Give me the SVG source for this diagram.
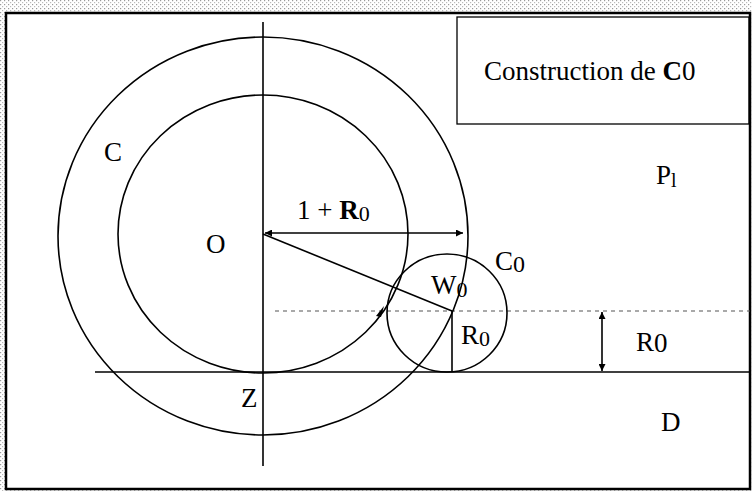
<svg xmlns="http://www.w3.org/2000/svg" width="752" height="491" viewBox="0 0 752 491">
<defs>
<pattern id="dots" width="4" height="4" patternUnits="userSpaceOnUse">
<rect width="4" height="4" fill="#fff"/>
<rect x="0" y="0" width="1.2" height="1.2" fill="#999"/>
<rect x="2" y="2" width="1.2" height="1.2" fill="#bbb"/>
</pattern>
<marker id="ah" viewBox="0 0 10 10" refX="10" refY="5" markerWidth="9" markerHeight="7" markerUnits="userSpaceOnUse" orient="auto-start-reverse">
<path d="M0,0 L10,5 L0,10 z" fill="#000"/>
</marker>
<style>
.ln{fill:none;stroke:#000;stroke-width:1.6}
.t{font-family:"Liberation Serif","Times New Roman",serif;font-size:27px;fill:#000}
.b{font-weight:bold}
</style>
</defs>
<rect x="0" y="0" width="752" height="491" fill="url(#dots)"/>
<rect x="6" y="13" width="744" height="476" fill="#fff" stroke="#000" stroke-width="2.5"/>

<g id="box">
<rect x="457" y="17" width="292" height="107" fill="none" stroke="#000" stroke-width="1.3"/>
<text class="t" x="484" y="80" font-size="26">Construction de <tspan class="b">C</tspan><tspan>0</tspan></text>
</g>

<g id="connectors">
<line class="ln" x1="263" y1="22" x2="263" y2="466"/>
<line class="ln" x1="95" y1="372" x2="750" y2="372"/>
<line x1="275" y1="311" x2="750" y2="311" stroke="#555" stroke-width="1.2" stroke-dasharray="4 4"/>
<line class="ln" x1="265" y1="233" x2="463" y2="233" marker-start="url(#ah)" marker-end="url(#ah)"/>
<line class="ln" x1="263" y1="234" x2="452" y2="311"/>
<line class="ln" x1="452" y1="311" x2="452" y2="372"/>
<line class="ln" x1="602" y1="312" x2="602" y2="371" marker-start="url(#ah)" marker-end="url(#ah)"/>
<path d="M376,316 L384,306 L381,317 z" fill="#000"/>
</g>

<g id="C">
<ellipse class="ln" cx="263" cy="236" rx="205" ry="199"/>
<text class="t" x="104" y="161" font-size="28">C</text>
</g>
<g id="inner">
<ellipse class="ln" cx="263" cy="234" rx="145" ry="139"/>
</g>
<g id="O">
<text class="t" x="206" y="253" font-size="28">O</text>
</g>
<g id="C0">
<ellipse class="ln" cx="447" cy="313" rx="60" ry="59"/>
<text class="t" x="495" y="270">C<tspan font-size="24" dy="2">0</tspan></text>
</g>
<g id="label-1R0">
<text class="t" x="297" y="219" font-size="24">1 + <tspan class="b">R</tspan><tspan font-size="22" dy="2">0</tspan></text>
</g>
<g id="W0">
<text class="t" x="431" y="294" font-size="24">W<tspan font-size="22" dy="3">0</tspan></text>
</g>
<g id="R0-inner">
<text class="t" x="461" y="344" font-size="24">R<tspan font-size="22" dy="2">0</tspan></text>
</g>
<g id="R0-right">
<text class="t" x="636" y="351" font-size="22">R<tspan dy="1">0</tspan></text>
</g>
<g id="Pl">
<text class="t" x="656" y="184" font-size="27">P<tspan font-size="20" dy="3">l</tspan></text>
</g>
<g id="Z">
<text class="t" x="241" y="407" font-size="28">Z</text>
</g>
<g id="D">
<text class="t" x="661" y="431" font-size="28">D</text>
</g>
</svg>
